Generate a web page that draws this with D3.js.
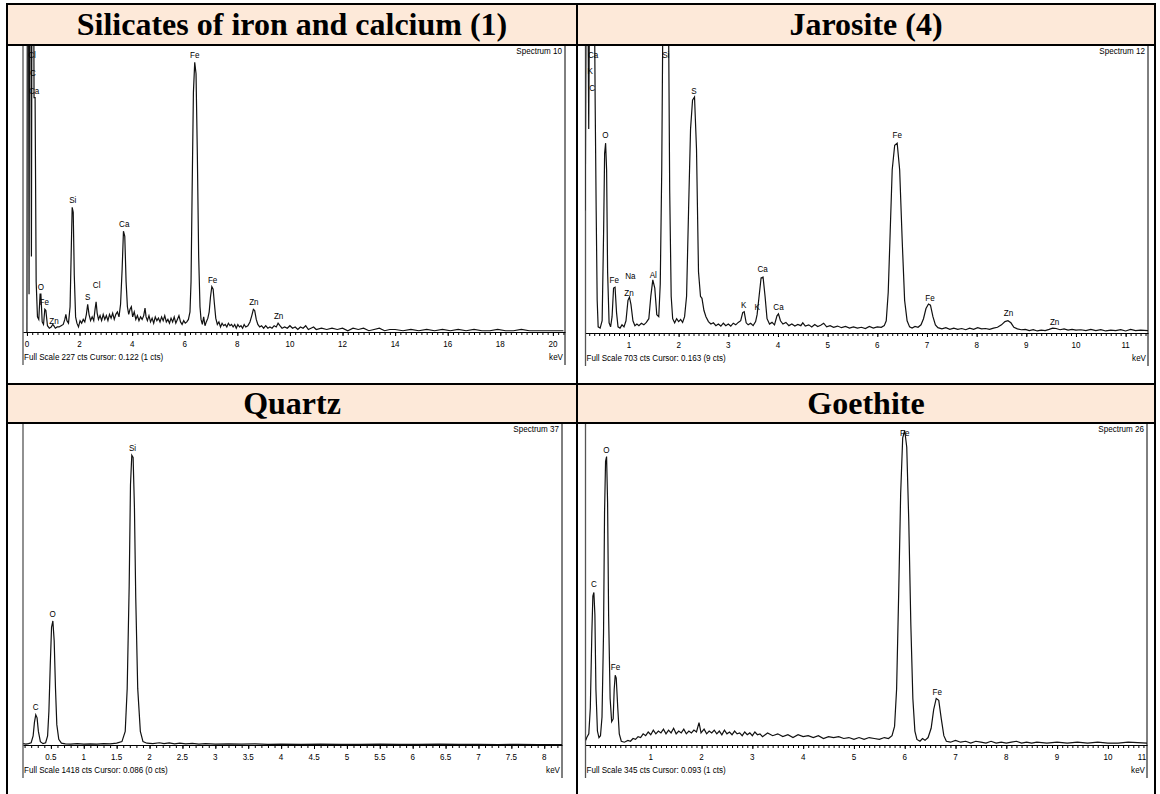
<!DOCTYPE html>
<html>
<head>
<meta charset="utf-8">
<script src="https://cdn.jsdelivr.net/npm/d3@7"></script>
<style>
  body { margin: 0; background: #fff; }
  svg { display: block; }
</style>
</head>
<body>
<div id="chart"></div>
<script>

// ---- data: [keV, counts] ----
var silicatesSpectrum = [
  [0.00, 0], [0.02, 400], [0.05, 400], [0.08, 30], [0.11, 400], [0.14, 400], [0.17, 60], [0.20, 400],
  [0.24, 400], [0.27, 186], [0.31, 186], [0.35, 40], [0.40, 12], [0.45, 10], [0.50, 30], [0.53, 30],
  [0.58, 8], [0.63, 6], [0.68, 18], [0.72, 17], [0.78, 5], [0.85, 3], [0.92, 4], [0.98, 6], [1.02, 5],
  [1.08, 3], [1.15, 4], [1.22, 4], [1.30, 5], [1.38, 6], [1.44, 10], [1.48, 14], [1.52, 9], [1.58, 7],
  [1.64, 20], [1.69, 70], [1.72, 99], [1.76, 95], [1.80, 45], [1.85, 12], [1.90, 7], [1.96, 4],
  [2.02, 9], [2.08, 7], [2.14, 10], [2.20, 8], [2.26, 14], [2.31, 22], [2.36, 14], [2.42, 9], [2.48, 12],
  [2.54, 9], [2.59, 18], [2.63, 24], [2.67, 15], [2.72, 10], [2.78, 13], [2.84, 9], [2.90, 14], [2.96, 10],
  [3.02, 13], [3.08, 9], [3.14, 14], [3.20, 11], [3.26, 15], [3.32, 10], [3.38, 14], [3.44, 16], [3.50, 12],
  [3.56, 22], [3.62, 50], [3.67, 80], [3.72, 76], [3.77, 40], [3.82, 20], [3.87, 14], [3.92, 18], [3.97, 20],
  [4.02, 12], [4.08, 16], [4.14, 10], [4.20, 13], [4.26, 9], [4.32, 12], [4.38, 10], [4.44, 13], [4.49, 19],
  [4.53, 12], [4.58, 9], [4.64, 13], [4.70, 8], [4.76, 11], [4.82, 7], [4.88, 12], [4.94, 9], [5.00, 11],
  [5.06, 8], [5.12, 12], [5.18, 9], [5.24, 13], [5.30, 8], [5.36, 10], [5.42, 7], [5.48, 11], [5.54, 8],
  [5.60, 12], [5.66, 7], [5.72, 10], [5.78, 13], [5.84, 8], [5.90, 6], [5.96, 9], [6.02, 7], [6.08, 8],
  [6.14, 10], [6.20, 16], [6.24, 40], [6.28, 110], [6.33, 190], [6.38, 214], [6.43, 205], [6.48, 140],
  [6.53, 60], [6.58, 20], [6.62, 10], [6.67, 6], [6.72, 12], [6.77, 5], [6.82, 8], [6.88, 11], [6.93, 16],
  [6.98, 28], [7.03, 36], [7.08, 34], [7.13, 22], [7.18, 11], [7.24, 6], [7.30, 8], [7.36, 4], [7.42, 7],
  [7.48, 5], [7.54, 6], [7.60, 4], [7.66, 7], [7.72, 5], [7.78, 6], [7.84, 4], [7.90, 6], [7.96, 3],
  [8.02, 6], [8.08, 4], [8.14, 5], [8.20, 3], [8.26, 6], [8.32, 4], [8.40, 5], [8.48, 8], [8.55, 13],
  [8.61, 18], [8.66, 17], [8.72, 10], [8.78, 6], [8.85, 4], [8.92, 5], [9.00, 3], [9.08, 5], [9.16, 3],
  [9.24, 4], [9.32, 3], [9.40, 5], [9.48, 4], [9.55, 7], [9.62, 5], [9.70, 3], [9.80, 4], [9.90, 3],
  [10.0, 5], [10.1, 3], [10.2, 4], [10.3, 2], [10.4, 4], [10.5, 3], [10.6, 5], [10.7, 2], [10.8, 3],
  [10.9, 4], [11.0, 2], [11.2, 3], [11.4, 2], [11.6, 3], [11.8, 2], [12.0, 3], [12.2, 1], [12.4, 3],
  [12.6, 2], [12.8, 3], [13.0, 1], [13.2, 2], [13.4, 3], [13.6, 1], [13.8, 2], [14.0, 2], [14.3, 1],
  [14.6, 2], [14.9, 1], [15.2, 2], [15.5, 1], [15.8, 2], [16.1, 1], [16.4, 2], [16.7, 1], [17.0, 2],
  [17.3, 1], [17.6, 1], [17.9, 2], [18.2, 1], [18.5, 1], [18.8, 2], [19.1, 1], [19.4, 1], [19.7, 1],
  [20.0, 1], [20.4, 1]
];
var silicatesLabels = [
  ["Cl", 0.19, 220], ["C", 0.23, 206], ["Ca", 0.27, 192], ["Fe", 6.38, 220], ["Si", 1.74, 105],
  ["Ca", 3.70, 86], ["O", 0.53, 36], ["Fe", 0.66, 24], ["Zn", 1.03, 9], ["S", 2.31, 28],
  ["Cl", 2.65, 38], ["Fe", 7.06, 42], ["Zn", 8.63, 24], ["Zn", 9.57, 13]
];

var jarositeSpectrum = [
  [0.12, 300], [0.14, 900], [0.17, 900], [0.19, 500], [0.21, 900], [0.30, 900], [0.32, 560], [0.34, 300],
  [0.36, 80], [0.38, 15], [0.42, 12], [0.46, 30], [0.49, 250], [0.51, 440], [0.53, 465], [0.55, 400],
  [0.57, 150], [0.60, 25], [0.63, 15], [0.66, 40], [0.69, 110], [0.72, 112], [0.75, 50], [0.78, 15],
  [0.82, 12], [0.86, 20], [0.90, 15], [0.94, 30], [0.98, 80], [1.01, 88], [1.04, 70], [1.08, 30],
  [1.12, 18], [1.16, 22], [1.20, 18], [1.25, 24], [1.30, 20], [1.35, 26], [1.40, 35], [1.44, 90],
  [1.48, 130], [1.52, 110], [1.56, 45], [1.60, 40], [1.63, 120], [1.66, 400], [1.69, 900], [1.79, 900],
  [1.82, 350], [1.85, 90], [1.88, 35], [1.92, 25], [1.96, 35], [2.00, 28], [2.04, 33], [2.08, 26],
  [2.12, 40], [2.16, 90], [2.20, 300], [2.24, 500], [2.28, 570], [2.32, 578], [2.36, 450], [2.40, 150],
  [2.44, 90], [2.47, 85], [2.51, 55], [2.55, 40], [2.60, 28], [2.65, 22], [2.70, 25], [2.75, 18],
  [2.80, 22], [2.85, 17], [2.90, 24], [2.95, 18], [3.00, 22], [3.05, 17], [3.10, 24], [3.15, 20],
  [3.20, 26], [3.25, 30], [3.29, 50], [3.32, 52], [3.36, 25], [3.40, 20], [3.45, 24], [3.50, 18],
  [3.55, 28], [3.58, 45], [3.62, 90], [3.66, 135], [3.70, 137], [3.74, 90], [3.78, 35], [3.83, 22],
  [3.88, 26], [3.93, 20], [3.98, 42], [4.01, 47], [4.05, 30], [4.10, 22], [4.16, 26], [4.22, 18],
  [4.28, 22], [4.34, 17], [4.40, 21], [4.46, 18], [4.50, 25], [4.55, 17], [4.62, 20], [4.68, 15],
  [4.74, 21], [4.80, 16], [4.86, 19], [4.92, 24], [4.98, 15], [5.05, 18], [5.12, 14], [5.20, 17],
  [5.28, 13], [5.36, 16], [5.44, 12], [5.52, 15], [5.60, 12], [5.68, 14], [5.76, 11], [5.84, 16],
  [5.92, 12], [6.00, 15], [6.08, 14], [6.14, 18], [6.18, 30], [6.22, 100], [6.26, 250], [6.30, 400],
  [6.35, 460], [6.40, 465], [6.45, 400], [6.50, 230], [6.55, 80], [6.60, 30], [6.65, 15], [6.70, 12],
  [6.76, 16], [6.82, 14], [6.88, 20], [6.93, 35], [6.98, 60], [7.03, 71], [7.07, 68], [7.12, 40],
  [7.17, 20], [7.22, 13], [7.30, 10], [7.38, 13], [7.46, 9], [7.54, 12], [7.62, 9], [7.70, 11],
  [7.78, 8], [7.86, 12], [7.94, 9], [8.02, 13], [8.10, 10], [8.18, 11], [8.26, 9], [8.34, 12],
  [8.42, 14], [8.50, 20], [8.57, 28], [8.63, 30], [8.69, 25], [8.75, 14], [8.82, 10], [8.90, 8],
  [8.98, 9], [9.06, 6], [9.14, 8], [9.22, 5], [9.30, 7], [9.38, 6], [9.46, 9], [9.53, 12], [9.60, 11],
  [9.68, 8], [9.76, 10], [9.84, 7], [9.92, 9], [10.0, 7], [10.1, 8], [10.2, 6], [10.3, 9], [10.4, 6],
  [10.5, 8], [10.6, 5], [10.7, 7], [10.8, 6], [10.9, 8], [11.0, 5], [11.1, 9], [11.2, 6], [11.3, 7],
  [11.45, 6]
];
var jarositeLabels = [
  ["Ca", 0.28, 681], ["K", 0.22, 642], ["C", 0.26, 602], ["Si", 1.74, 681], ["S", 2.31, 595],
  ["O", 0.525, 485], ["Fe", 6.40, 485], ["Fe", 0.705, 132], ["Na", 1.03, 140], ["Zn", 1.00, 100],
  ["Al", 1.49, 144], ["Ca", 3.69, 157], ["K", 3.31, 71], ["K", 3.58, 66], ["Ca", 4.01, 64],
  ["Fe", 7.06, 88], ["Zn", 8.64, 49], ["Zn", 9.57, 27]
];

var quartzSpectrum = [
  [0.08, 6], [0.12, 4], [0.16, 6], [0.20, 10], [0.23, 40], [0.25, 100], [0.27, 133], [0.29, 120],
  [0.31, 60], [0.34, 15], [0.38, 6], [0.42, 10], [0.45, 40], [0.47, 150], [0.49, 350], [0.51, 520],
  [0.53, 548], [0.55, 460], [0.57, 250], [0.59, 90], [0.62, 25], [0.66, 8], [0.72, 5], [0.80, 4],
  [0.90, 6], [1.00, 4], [1.10, 5], [1.20, 4], [1.30, 6], [1.40, 5], [1.50, 8], [1.58, 15], [1.63, 60],
  [1.66, 250], [1.69, 700], [1.71, 1150], [1.73, 1280], [1.75, 1270], [1.77, 1050], [1.79, 650],
  [1.82, 250], [1.86, 60], [1.90, 15], [1.96, 8], [2.05, 6], [2.15, 10], [2.22, 6], [2.30, 9],
  [2.38, 5], [2.46, 8], [2.55, 5], [2.65, 7], [2.75, 4], [2.85, 6], [3.0, 4], [3.2, 5], [3.4, 4],
  [3.6, 5], [3.8, 3], [4.0, 4], [4.3, 3], [4.6, 4], [4.9, 3], [5.2, 3], [5.5, 4], [5.8, 3], [6.1, 3],
  [6.4, 4], [6.7, 3], [7.0, 3], [7.3, 2], [7.6, 3], [7.9, 2], [8.27, 2]
];
var quartzLabels = [
  ["Si", 1.74, 1312], ["O", 0.525, 583], ["C", 0.27, 168]
];

// goethite values are read against the axis as printed on that spectrum
var goethiteSpectrum = [
  [-0.28, 5], [-0.26, 8], [-0.22, 12], [-0.19, 40], [-0.16, 120], [-0.14, 160], [-0.12, 164], [-0.10, 140],
  [-0.08, 60], [-0.05, 15], [-0.02, 8], [0.01, 10], [0.04, 30], [0.07, 120], [0.09, 250], [0.11, 305],
  [0.13, 310], [0.15, 260], [0.17, 140], [0.20, 50], [0.23, 25], [0.26, 28], [0.28, 60], [0.30, 75],
  [0.32, 72], [0.35, 40], [0.38, 12], [0.42, 4], [0.48, 3], [0.55, 5], [0.60, 4], [0.65, 7], [0.70, 6],
  [0.75, 9], [0.80, 8], [0.85, 12], [0.90, 10], [0.95, 14], [1.00, 11], [1.05, 16], [1.10, 12],
  [1.15, 15], [1.20, 13], [1.25, 17], [1.30, 12], [1.35, 16], [1.40, 13], [1.45, 18], [1.50, 12],
  [1.55, 15], [1.60, 13], [1.65, 17], [1.70, 12], [1.75, 15], [1.80, 13], [1.85, 16], [1.90, 14],
  [1.95, 24], [1.99, 13], [2.05, 17], [2.10, 12], [2.15, 15], [2.20, 13], [2.25, 16], [2.30, 12],
  [2.35, 15], [2.40, 11], [2.45, 16], [2.50, 12], [2.55, 14], [2.60, 11], [2.65, 15], [2.70, 12],
  [2.75, 13], [2.80, 10], [2.85, 14], [2.90, 11], [2.95, 13], [3.00, 10], [3.05, 14], [3.10, 11],
  [3.15, 12], [3.20, 9], [3.30, 13], [3.40, 10], [3.50, 12], [3.60, 9], [3.70, 11], [3.80, 8],
  [3.90, 11], [4.00, 9], [4.10, 10], [4.20, 8], [4.30, 10], [4.40, 7], [4.50, 9], [4.60, 8], [4.70, 9],
  [4.80, 7], [4.90, 8], [5.00, 6], [5.10, 8], [5.20, 6], [5.30, 8], [5.40, 7], [5.50, 6], [5.60, 8],
  [5.68, 7], [5.75, 10], [5.80, 20], [5.84, 60], [5.88, 160], [5.92, 270], [5.96, 330], [6.00, 338],
  [6.04, 320], [6.08, 240], [6.12, 130], [6.16, 50], [6.20, 15], [6.24, 6], [6.30, 4], [6.35, 7],
  [6.40, 5], [6.46, 8], [6.52, 18], [6.57, 38], [6.62, 50], [6.67, 48], [6.72, 28], [6.77, 10],
  [6.82, 4], [6.90, 3], [7.00, 5], [7.10, 3], [7.20, 4], [7.30, 2], [7.40, 4], [7.50, 3], [7.60, 2],
  [7.70, 4], [7.80, 2], [7.90, 3], [8.00, 2], [8.10, 3], [8.20, 4], [8.30, 2], [8.40, 3], [8.50, 2],
  [8.60, 3], [8.80, 2], [9.00, 3], [9.20, 2], [9.40, 3], [9.60, 2], [9.80, 3], [10.00, 2], [10.20, 2],
  [10.40, 3], [10.77, 2]
];
var goethiteLabels = [
  ["O", 0.125, 318], ["Fe", 6.00, 336], ["C", -0.12, 174], ["Fe", 0.305, 84], ["Fe", 6.64, 58]
];

// tick labels on each energy axis
var silicatesTicks = [0, 2, 4, 6, 8, 10, 12, 14, 16, 18, 20];
var jarositeTicks = [1, 2, 3, 4, 5, 6, 7, 8, 9, 10, 11];
var quartzTicks = [0.5, 1, 1.5, 2, 2.5, 3, 3.5, 4, 4.5, 5, 5.5, 6, 6.5, 7, 7.5, 8];
var goethiteTicks = [1, 2, 3, 4, 5, 6, 7, 8, 9, 10, 11];

var titles = ["Silicates of iron and calcium (1)", "Jarosite (4)", "Quartz", "Goethite"];
var spectrumNames = ["Spectrum 10", "Spectrum 12", "Spectrum 37", "Spectrum 26"];
var fullScales = [227, 703, 1418, 345];
var footers = [
  "Full Scale 227 cts Cursor: 0.122  (1 cts)",
  "Full Scale 703 cts Cursor: 0.163  (9 cts)",
  "Full Scale 1418 cts Cursor: 0.086  (0 cts)",
  "Full Scale 345 cts Cursor: 0.093  (1 cts)"
];

// ---- layout ----
var W = 1160, H = 794;
var tableL = 7, tableM = 577, tableR = 1155;
var rowY = [4, 45, 384, 423, 800];

var svg = d3.select("#chart").append("svg")
  .attr("width", W)
  .attr("height", H);

// header fills
[rowY[0], rowY[2]].forEach(function(y, i) {
  var h = rowY[i * 2 + 1] - y;
  svg.append("rect").attr("x", tableL).attr("y", y).attr("width", tableR - tableL).attr("height", h)
    .attr("fill", "#FDE9D9");
});

// titles
titles.forEach(function(t, i) {
  var col = i % 2, row = Math.floor(i / 2);
  var cx = col == 0 ? (tableL + tableM) / 2 : (tableM + tableR) / 2;
  var y = row == 0 ? 35 : 414;
  svg.append("text")
    .attr("x", cx).attr("y", y)
    .attr("text-anchor", "middle")
    .style("font-family", "'Liberation Serif', 'Times New Roman', serif")
    .style("font-weight", "bold")
    .style("font-size", "32px")
    .text(t);
});

var panels = [
  { data: silicatesSpectrum, labels: silicatesLabels, ticks: silicatesTicks, minor: 0.2,
    left: 23, right: 565, kA: -0.15, kB: 20.46, top: 46, base: 332 },
  { data: jarositeSpectrum, labels: jarositeLabels, ticks: jarositeTicks, minor: 0.1,
    left: 585.5, right: 1148, kA: 0.125, kB: 11.45, top: 46, base: 333 },
  { data: quartzSpectrum, labels: quartzLabels, ticks: quartzTicks, minor: 0.1,
    left: 23, right: 562, kA: 0.076, kB: 8.27, top: 424, base: 745 },
  { data: goethiteSpectrum, labels: goethiteLabels, ticks: goethiteTicks, minor: 0.1,
    left: 585.5, right: 1147, kA: -0.285, kB: 10.77, top: 424, base: 745 }
];

function smallText(g, x, y, str, anchor) {
  g.append("text")
    .attr("transform", "translate(" + x + "," + y + ") scale(0.85,1)")
    .attr("text-anchor", anchor || "middle")
    .style("font-family", "'Liberation Sans', Arial, sans-serif")
    .style("font-size", "9.5px")
    .attr("fill", "#000")
    .text(str);
}

panels.forEach(function(p, i) {
  var g = svg.append("g");

  var x = d3.scaleLinear().domain([p.kA, p.kB]).range([p.left, p.right]);
  var y = d3.scaleLinear().domain([0, fullScales[i]]).range([p.base, p.top]);

  // frame sides
  g.append("line").attr("x1", p.left).attr("x2", p.left).attr("y1", p.top).attr("y2", p.base + 33)
    .attr("stroke", "#555").attr("stroke-width", 1.3);
  g.append("line").attr("x1", p.right).attr("x2", p.right).attr("y1", p.top).attr("y2", p.base + 33)
    .attr("stroke", "#000").attr("stroke-width", 1);

  // spectrum
  var clipId = "clip" + i;
  svg.append("clipPath").attr("id", clipId).append("rect")
    .attr("x", p.left).attr("y", p.top).attr("width", p.right - p.left).attr("height", p.base - p.top);

  var line = d3.line().x(d => x(d[0])).y(d => y(d[1]));
  g.append("path")
    .datum(p.data)
    .attr("clip-path", "url(#" + clipId + ")")
    .attr("d", line)
    .attr("fill", "none")
    .attr("stroke", "#111")
    .attr("stroke-width", 1.2);

  // axis: minor then major ticks
  var minorTicks = d3.range(Math.ceil(p.kA / p.minor) * p.minor, p.kB, p.minor);
  var minorAxis = d3.axisBottom(x).tickValues(minorTicks).tickSize(3).tickFormat("").tickSizeOuter(0);
  var ax1 = g.append("g").attr("transform", "translate(0," + p.base + ")").call(minorAxis);
  ax1.select(".domain").attr("stroke", "#000");

  var inside = p.ticks.filter(t => t <= p.kB);
  var majorAxis = d3.axisBottom(x).tickValues(inside).tickSize(4).tickSizeOuter(0).tickFormat("");
  g.append("g").attr("transform", "translate(0," + p.base + ")").call(majorAxis)
    .select(".domain").remove();

  p.ticks.forEach(function(t) {
    smallText(g, Math.min(x(t), p.right - 5), p.base + 15, d3.format("~g")(t));
  });

  // peak labels
  p.labels.forEach(function(l) {
    smallText(g, x(l[1]), y(l[2]) + 3.5, l[0]);
  });

  // captions
  smallText(g, p.right - 3, p.top + 8, spectrumNames[i], "end");
  smallText(g, p.left + 1, p.base + 28, footers[i], "start");
  smallText(g, p.right - 2, p.base + 28, "keV", "end");
});

// table borders
var borders = svg.append("g").attr("stroke", "#000").attr("stroke-width", 2);
[rowY[0], rowY[1], rowY[2], rowY[3]].forEach(function(yy) {
  borders.append("line").attr("x1", tableL).attr("x2", tableR).attr("y1", yy).attr("y2", yy);
});
[tableL, tableM, tableR].forEach(function(xx) {
  borders.append("line").attr("x1", xx).attr("x2", xx).attr("y1", rowY[0] - 1).attr("y2", H);
});

</script>
</body>
</html>
